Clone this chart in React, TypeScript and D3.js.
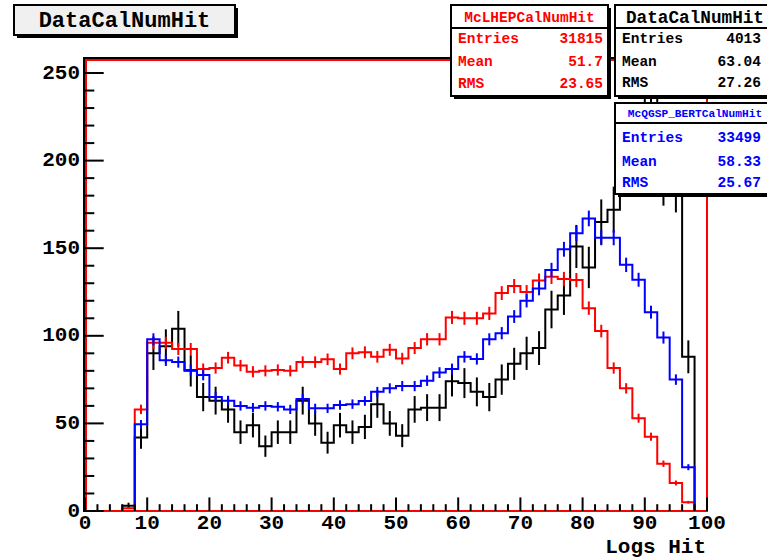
import React from "react";
import * as d3 from "d3";

// Histogram binning: 50 bins of width 2 over [0, 100]
const binLow = d3.range(0, 100, 2);
const binWidth = 2;

// Bin contents (data is raw counts, MC samples normalised to data)
const dataCounts = [
  0, 0, 0, 3, 42, 90, 94, 104, 80, 65,
  63, 58, 45, 49, 37, 45, 45, 63, 50, 39,
  49, 45, 48, 61, 50, 43, 58, 59, 59, 74,
  73, 68, 65, 75, 84, 90, 93, 115, 123, 151,
  139, 165, 172, 195, 214, 246, 188, 184, 88, 0,
];
const lhepCounts = [
  0, 0, 0, 1.5, 58, 96, 96, 92.5, 92.5, 81,
  81.6, 87.5, 83, 79.5, 80, 80.5, 80, 85, 85, 86.6,
  81, 90, 90.6, 88, 92, 87, 93, 98, 98, 110.5,
  110, 110, 112.8, 124.4, 128.4, 125, 131.5, 133.7, 132.4, 131.8,
  115.8, 102.7, 81.6, 70, 53, 42.4, 27, 16, 5, 0,
];
const qgspCounts = [
  0, 0, 0, 0, 49.5, 98, 86, 85, 80.5, 77.6,
  65, 63, 60, 59, 60, 59.5, 58, 64, 58.6, 58.6,
  60.5, 61, 62.8, 68, 70, 71.3, 71.3, 74.4, 79, 81,
  88, 86.8, 98, 101.5, 111, 120, 127, 137.6, 149.4, 158.5,
  167, 156, 156, 140.5, 132, 113.5, 99, 75, 25, 0,
];

// Statistics shown in the boxes
const histNames = ["DataCalNumHit", "McLHEPCalNumHit", "McQGSP_BERTCalNumHit"];
const histEntries = [4013, 31815, 33499];
const histMeans = ["63.04", "51.7", "58.33"];
const histRms = ["27.26", "23.65", "25.67"];
const histColors = ["#000000", "#ff0000", "#0000ff"];

// Axis ticks
const xTickValues = d3.range(0, 101, 10);
const xTickLabels = ["0", "10", "20", "30", "40", "50", "60", "70", "80", "90", "100"];
const yTickValues = d3.range(0, 251, 50);
const yTickLabels = ["0", "50", "100", "150", "200", "250"];
const xTitle = "Logs Hit";

const W = 767;
const H = 558;
const FONT = "'Liberation Mono', 'DejaVu Sans Mono', monospace";

const x = d3.scaleLinear().domain([0, 100]).range([85, 707]);
const y = d3.scaleLinear().domain([0, 258]).range([511, 59]);

function stepPath(values: number[]): string {
  const pts: [number, number][] = [[x(binLow[0]), y(0)]];
  values.forEach((v, i) => {
    pts.push([x(binLow[i]), y(v)]);
    pts.push([x(binLow[i] + binWidth), y(v)]);
  });
  pts.push([x(100), y(0)]);
  return d3.line()(pts) || "";
}

function Hist({ values, color, scale }: { values: number[]; color: string; scale: number }) {
  return (
    <g>
      <path d={stepPath(values)} fill="none" stroke={color} strokeWidth={2} />
      {values.map((v, i) => {
        if (v <= 0) return null;
        const err = Math.sqrt(v * scale);
        const cx = x(binLow[i] + binWidth / 2);
        return (
          <line
            key={i}
            x1={cx}
            x2={cx}
            y1={y(Math.min(v + err, 258))}
            y2={y(v - err)}
            stroke={color}
            strokeWidth={2}
          />
        );
      })}
    </g>
  );
}

function StatBox({
  idx,
  bx,
  by,
  bw,
  headerH,
  headerSize,
  rowsY,
}: {
  idx: number;
  bx: number;
  by: number;
  bw: number;
  headerH: number;
  headerSize: number;
  rowsY: number[];
}) {
  const c = histColors[idx];
  const bh = 91;
  const rows: [string, string][] = [
    ["Entries", String(histEntries[idx])],
    ["Mean", histMeans[idx]],
    ["RMS", histRms[idx]],
  ];
  return (
    <g>
      <rect x={bx + 3} y={by + 3} width={bw} height={bh} fill="#000" />
      <rect x={bx} y={by} width={bw} height={bh} fill="#fff" stroke="#000" strokeWidth={2} />
      <line x1={bx} x2={bx + bw} y1={by + headerH} y2={by + headerH} stroke="#000" strokeWidth={2} />
      <text
        x={bx + bw / 2}
        y={by + headerH / 2 + 1}
        textAnchor="middle"
        dominantBaseline="central"
        fontFamily={FONT}
        fontWeight="bold"
        fontSize={headerSize}
        fill={c}
      >
        {histNames[idx]}
      </text>
      {rows.map(([k, v], j) => (
        <g key={k}>
          <text
            x={bx + 7}
            y={by + rowsY[j]}
            dominantBaseline="central"
            fontFamily={FONT}
            fontWeight="bold"
            fontSize={14.5}
            fill={c}
          >
            {k}
          </text>
          <text
            x={Math.min(bx + bw - 5, 761)}
            y={by + rowsY[j]}
            textAnchor="end"
            dominantBaseline="central"
            fontFamily={FONT}
            fontWeight="bold"
            fontSize={14.5}
            fill={c}
          >
            {v}
          </text>
        </g>
      ))}
    </g>
  );
}

export default function App() {
  const xMinor = d3.range(0, 101, 2);
  const yMinor = d3.range(0, 258, 10);
  const scales = [1, histEntries[0] / histEntries[1], histEntries[0] / histEntries[2]];
  return (
    <svg
      width={W}
      height={H}
      style={{ position: "absolute", left: 0, top: 0, background: "#fff" }}
    >
      <rect x={0} y={0} width={W} height={H} fill="#fff" />

      {/* histograms */}
      <Hist values={dataCounts} color={histColors[0]} scale={scales[0]} />
      <Hist values={lhepCounts} color={histColors[1]} scale={scales[1]} />
      <Hist values={qgspCounts} color={histColors[2]} scale={scales[2]} />

      {/* frame */}
      <rect x={84} y={58} width={623} height={453} fill="none" stroke="#000" strokeWidth={2} />
      <rect x={86} y={60} width={621} height={451} fill="none" stroke="#ff0000" strokeWidth={2} />

      {/* x axis ticks */}
      {xMinor.map((t) => {
        const major = t % 10 === 0;
        return (
          <line
            key={"xm" + t}
            x1={x(t)}
            x2={x(t)}
            y1={511}
            y2={511 - (major ? 13.6 : 6.8)}
            stroke="#000"
            strokeWidth={2}
          />
        );
      })}
      {xTickValues.map((t, i) => (
        <text
          key={"xl" + t}
          x={x(t)}
          y={523}
          textAnchor="middle"
          dominantBaseline="central"
          fontFamily={FONT}
          fontWeight="bold"
          fontSize={21}
          fill="#000"
        >
          {xTickLabels[i]}
        </text>
      ))}
      <text
        x={706}
        y={547}
        textAnchor="end"
        dominantBaseline="central"
        fontFamily={FONT}
        fontWeight="bold"
        fontSize={21}
        fill="#000"
      >
        {xTitle}
      </text>

      {/* y axis ticks */}
      {yMinor.map((t) => {
        const major = t % 50 === 0;
        return (
          <line
            key={"ym" + t}
            x1={85}
            x2={85 + (major ? 18.7 : 9.3)}
            y1={y(t)}
            y2={y(t)}
            stroke="#000"
            strokeWidth={2}
          />
        );
      })}
      {yTickValues.map((t, i) => (
        <text
          key={"yl" + t}
          x={80}
          y={y(t)}
          textAnchor="end"
          dominantBaseline="central"
          fontFamily={FONT}
          fontWeight="bold"
          fontSize={21}
          fill="#000"
        >
          {yTickLabels[i]}
        </text>
      ))}

      {/* title */}
      <rect x={17} y={8} width={221} height={30} fill="#000" />
      <rect x={14} y={5} width={221} height={30} fill="#f0f0f0" stroke="#000" strokeWidth={2} />
      <text
        x={124.5}
        y={21}
        textAnchor="middle"
        dominantBaseline="central"
        fontFamily={FONT}
        fontWeight="bold"
        fontSize={22}
        fill="#000"
      >
        {histNames[0]}
      </text>

      {/* statistics boxes */}
      <StatBox idx={1} bx={451} by={5} bw={157} headerH={23} headerSize={14.5} rowsY={[34, 57, 79]} />
      <StatBox idx={0} bx={615} by={5} bw={160} headerH={23} headerSize={17.7} rowsY={[34, 57, 78]} />
      <StatBox idx={2} bx={615} by={103} bw={160} headerH={20} headerSize={11.2} rowsY={[35, 59, 80]} />
    </svg>
  );
}
